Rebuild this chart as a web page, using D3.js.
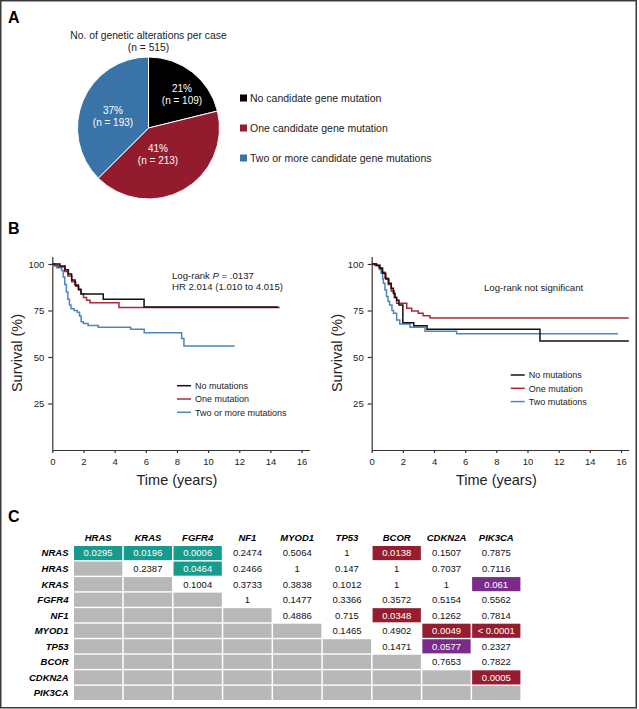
<!DOCTYPE html>
<html>
<head>
<meta charset="utf-8">
<script src="https://cdn.jsdelivr.net/npm/d3@7"></script>
<style>
  body { margin: 0; background: #fff; }
  svg { display: block; font-family: 'Liberation Sans', Arial, sans-serif; }
  .narrow { font-family: 'Liberation Sans Narrow', 'Liberation Sans', Arial, sans-serif; }
</style>
</head>
<body>
<svg id="fig"></svg>
<script>
'use strict';

// ---- Panel A data
var pieLabels = ['No candidate gene mutation', 'One candidate gene mutation', 'Two or more candidate gene mutations'];
var pieCounts = [109, 213, 193];
var piePercents = ['21%', '41%', '37%'];

// ---- Panel B data  ([years, survival %] steps)
var timeTicks = [0, 2, 4, 6, 8, 10, 12, 14, 16];
var survTicks = [25, 50, 75, 100];
var leftNames = ['No mutations', 'One mutation', 'Two or more mutations'];
var rightNames = ['No mutations', 'One mutation', 'Two mutations'];

var leftNone = [[0, 100], [0.49, 98.9], [0.82, 96.9], [1.03, 94.6], [1.24, 91.4], [1.46, 88.7],
  [1.67, 86.4], [1.84, 83.9], [3.27, 81], [5.89, 76.9], [14.5, 76.9]];
var leftOne = [[0, 100], [0.15, 99.2], [0.37, 98.4], [0.8, 96], [1.0, 93.5], [1.25, 90.5], [1.5, 88],
  [1.7, 86], [1.85, 84], [2.0, 82], [2.2, 80.5], [2.42, 79.2], [4.28, 76.6], [14.6, 76.6]];
var leftTwo = [[0, 100], [0.1, 99], [0.28, 98], [0.6, 96.5], [0.7, 93], [0.8, 89], [0.9, 85], [1.0, 81],
  [1.1, 78], [1.2, 76], [1.4, 75], [1.6, 74], [1.75, 72], [1.85, 69], [2.0, 68], [2.3, 67], [2.95, 66],
  [5.03, 64.9], [5.9, 63.1], [8.3, 60], [8.45, 55.9], [11.7, 55.9]];

var rightNone = [[0, 100], [0.32, 99.3], [0.53, 97.7], [0.7, 95], [0.9, 92], [1.1, 89.6], [1.25, 87],
  [1.39, 84.2], [1.5, 82], [1.6, 80.5], [1.75, 78], [2.0, 68.4], [2.7, 66.8], [3.55, 64.9],
  [10.8, 58.6], [16.5, 58.6]];
var rightOne = [[0, 100], [0.2, 99.2], [0.45, 98], [0.65, 95.5], [0.85, 92.5], [1.05, 89], [1.25, 85.5],
  [1.45, 82], [1.6, 78.9], [2.25, 76.2], [2.57, 74.7], [2.99, 73.5], [3.3, 72.2], [3.74, 71], [16.5, 71]];
var rightTwo = [[0, 100], [0.3, 99], [0.5, 97], [0.6, 95], [0.7, 92], [0.75, 89.6], [0.85, 86],
  [0.95, 82.5], [1.05, 80], [1.15, 78], [1.3, 75], [1.4, 73.5], [1.6, 69.9], [1.8, 67.7], [2.46, 66],
  [3.42, 63.8], [5.45, 62.5], [15.8, 62.5]];

// ---- Panel C data
var colGenes = ['HRAS', 'KRAS', 'FGFR4', 'NF1', 'MYOD1', 'TP53', 'BCOR', 'CDKN2A', 'PIK3CA'];
var rowGenes = ['NRAS', 'HRAS', 'KRAS', 'FGFR4', 'NF1', 'MYOD1', 'TP53', 'BCOR', 'CDKN2A', 'PIK3CA'];
var pValues = [
  ['0.0295', '0.0196', '0.0006', '0.2474', '0.5064', '1', '0.0138', '0.1507', '0.7875'],
  [null, '0.2387', '0.0464', '0.2466', '1', '0.147', '1', '0.7037', '0.7116'],
  [null, null, '0.1004', '0.3733', '0.3838', '0.1012', '1', '1', '0.061'],
  [null, null, null, '1', '0.1477', '0.3366', '0.3572', '0.5154', '0.5562'],
  [null, null, null, null, '0.4886', '0.715', '0.0348', '0.1262', '0.7814'],
  [null, null, null, null, null, '0.1465', '0.4902', '0.0049', '< 0.0001'],
  [null, null, null, null, null, null, '0.1471', '0.0577', '0.2327'],
  [null, null, null, null, null, null, null, '0.7653', '0.7822'],
  [null, null, null, null, null, null, null, null, '0.0005'],
  [null, null, null, null, null, null, null, null, null]
];
// pairs that are mutually exclusive (the rest co-occur)
var exclusivePairs = [['NRAS', 'HRAS'], ['NRAS', 'KRAS'], ['NRAS', 'FGFR4'], ['HRAS', 'FGFR4']];

var W = 639, H = 709;
var svg = d3.select('#fig').attr('width', W).attr('height', H);

// frame
svg.append('rect')
  .attr('x', 0.75).attr('y', 0.75).attr('width', 635.5).attr('height', 707)
  .attr('fill', 'none').attr('stroke', '#3a3a3a').attr('stroke-width', 1.5);

function panelLetter(txt, x, y) {
  svg.append('text').attr('x', x).attr('y', y)
    .style('font-size', '16px').style('font-weight', 'bold').text(txt);
}

// ============ A: pie
panelLetter('A', 8, 23);
var pieColor = d3.scaleOrdinal().domain(pieLabels).range(['#000000', '#921c2e', '#3a73a8']);
var pieG = svg.append('g').attr('transform', 'translate(148.5,128)');
var pieRadius = 71;
var pie = d3.pie().sort(null).value(function(d) { return d.count; });
var pieData = pie(pieLabels.map(function(l, i) { return {label: l, count: pieCounts[i], pct: piePercents[i]}; }));
var arc = d3.arc().innerRadius(0).outerRadius(pieRadius);

pieG.selectAll('path').data(pieData).enter().append('path')
  .attr('d', arc)
  .attr('fill', function(d) { return pieColor(d.data.label); })
  .attr('stroke', '#fff').attr('stroke-width', 1);

svg.append('text').attr('x', 148.5).attr('y', 39).attr('text-anchor', 'middle')
  .style('font-size', '10.3px').attr('fill', '#222').text('No. of genetic alterations per case');
svg.append('text').attr('x', 148.5).attr('y', 51).attr('text-anchor', 'middle')
  .style('font-size', '10.3px').attr('fill', '#222').text('(n = 515)');

// label placement inside slices (angle in degrees from 12 o'clock, radius)
var pieLabelPolar = [[44.6, 47.7], [160.6, 28.6], [287.2, 37.2]];
var pieLab = pieG.selectAll('.plab').data(pieData).enter().append('g')
  .attr('class', 'plab')
  .attr('transform', function(d, i) {
    var a = pieLabelPolar[i][0] * Math.PI / 180, r = pieLabelPolar[i][1];
    return 'translate(' + (r * Math.sin(a)) + ',' + (-r * Math.cos(a)) + ')';
  });
pieLab.append('text').attr('y', -2.5).attr('text-anchor', 'middle')
  .attr('fill', '#fff').style('font-size', '10px')
  .text(function(d) { return d.data.pct; });
pieLab.append('text').attr('y', 9.5).attr('text-anchor', 'middle')
  .attr('fill', '#fff').style('font-size', '10px')
  .text(function(d) { return '(n = ' + d.data.count + ')'; });

var pieLegend = svg.selectAll('.plegend').data(pieLabels).enter().append('g')
  .attr('class', 'plegend')
  .attr('transform', function(d, i) { return 'translate(240,' + (98 + i * 30) + ')'; });
pieLegend.append('rect').attr('x', 0).attr('y', -3.5).attr('width', 7).attr('height', 7)
  .attr('fill', pieColor);
pieLegend.append('text').attr('x', 10).attr('y', 3.7).style('font-size', '10.5px').attr('fill', '#222')
  .text(function(d) { return d; });

// ============ B: Kaplan-Meier
panelLetter('B', 8, 234);
var kmColors = ['#111111', '#aa2a3c', '#4a87c0'];

function drawKM(cfg) {
  var x = d3.scaleLinear().domain([0, 16.5]).range([cfg.left, cfg.left + 16.5 * 15.58]);
  var y = d3.scaleLinear().domain([0, 104]).range([450, 450 - 104 * 1.86]);
  var g = svg.append('g');

  var xAxis = g.append('g').attr('transform', 'translate(0,450)')
    .call(d3.axisBottom(x).tickValues(timeTicks).tickSize(3).tickSizeOuter(0).tickPadding(5));
  var yAxis = g.append('g').attr('transform', 'translate(' + cfg.left + ',0)')
    .call(d3.axisLeft(y).tickValues(survTicks).tickSize(4).tickSizeOuter(0).tickPadding(4));
  [xAxis, yAxis].forEach(function(a) {
    a.selectAll('path, line').attr('stroke', '#333').attr('stroke-width', 1.2);
    a.selectAll('text').style('font-size', '9.5px').style('font-family', "'Liberation Sans', Arial, sans-serif")
      .attr('fill', '#222');
  });

  g.append('text').attr('class', 'narrow')
    .attr('x', cfg.left + 8 * 15.58).attr('y', 485).attr('text-anchor', 'middle')
    .style('font-size', '14.5px').attr('fill', '#222').text('Time (years)');
  g.append('text').attr('class', 'narrow')
    .attr('transform', 'translate(' + (cfg.left - 30) + ',353) rotate(-90)')
    .attr('text-anchor', 'middle').style('font-size', '14.5px').attr('fill', '#222')
    .text('Survival (%)');

  var line = d3.line()
    .x(function(d) { return x(d[0]); })
    .y(function(d) { return y(d[1]); })
    .curve(d3.curveStepAfter);
  // draw blue, red, then black on top
  [2, 1, 0].forEach(function(i) {
    g.append('path').datum(cfg.series[i])
      .attr('d', line).attr('fill', 'none')
      .attr('stroke', kmColors[i]).attr('stroke-width', 1.5);
  });

  cfg.note.forEach(function(t, i) {
    var tx = g.append('text').attr('x', cfg.noteX).attr('y', cfg.noteY + i * 11.5)
      .style('font-size', '9.6px').attr('fill', '#222');
    t.forEach(function(part) {
      tx.append('tspan').style('font-style', part.it ? 'italic' : 'normal').text(part.s);
    });
  });

  var leg = g.selectAll('.kleg').data(cfg.names).enter().append('g')
    .attr('transform', function(d, i) { return 'translate(' + cfg.legX + ',' + (cfg.legY + i * 13.3) + ')'; });
  leg.append('line').attr('x1', 0).attr('x2', 14)
    .attr('stroke', function(d, i) { return kmColors[i]; }).attr('stroke-width', 1.5);
  leg.append('text').attr('x', 18).attr('y', 3.3).style('font-size', '9px').attr('fill', '#222')
    .text(function(d) { return d; });
}

drawKM({
  left: 52.3, series: [leftNone, leftOne, leftTwo], names: leftNames,
  note: [[{s: 'Log-rank '}, {s: 'P', it: true}, {s: ' = .0137'}], [{s: 'HR 2.014 (1.010 to 4.015)'}]],
  noteX: 172, noteY: 278.5, legX: 177, legY: 385.7
});
drawKM({
  left: 371.7, series: [rightNone, rightOne, rightTwo], names: rightNames,
  note: [[{s: 'Log-rank not significant'}]],
  noteX: 484, noteY: 291, legX: 510.7, legY: 375
});

// ============ C: p-value table
panelLetter('C', 8, 522);
var cx = d3.scaleBand().domain(colGenes).range([74, 74 + 9 * 49.6]).paddingInner(0.03);
var cy = d3.scaleBand().domain(rowGenes).range([546, 546 + 10 * 15.4]).paddingInner(0.09);

svg.selectAll('.chead').data(colGenes).enter().append('text')
  .attr('x', function(d) { return cx(d) + cx.bandwidth() / 2; }).attr('y', 541)
  .attr('text-anchor', 'middle').style('font-size', '9.5px')
  .style('font-weight', 'bold').style('font-style', 'italic').text(function(d) { return d; });
svg.selectAll('.rhead').data(rowGenes).enter().append('text')
  .attr('x', 68.5).attr('y', function(d) { return cy(d) + cy.bandwidth() / 2 + 3.4; })
  .attr('text-anchor', 'end').style('font-size', '9.5px')
  .style('font-weight', 'bold').style('font-style', 'italic').text(function(d) { return d; });

function isExclusive(a, b) {
  return exclusivePairs.some(function(p) { return (p[0] === a && p[1] === b) || (p[0] === b && p[1] === a); });
}
var cells = [];
rowGenes.forEach(function(r, i) {
  colGenes.forEach(function(c, j) {
    var s = pValues[i][j];
    var kind = 'empty';
    if (s !== null) {
      var p = parseFloat(s.replace('<', ''));
      if (p < 0.05) kind = isExclusive(r, c) ? 'exclusive' : 'cooccur';
      else if (p < 0.1) kind = 'trend';
      else kind = 'ns';
    }
    cells.push({row: r, col: c, text: s, kind: kind});
  });
});
var cellFill = {empty: '#b8b8b8', exclusive: '#179b8e', cooccur: '#961d30', trend: '#7a2b8c', ns: 'none'};

var cell = svg.selectAll('.cell').data(cells).enter().append('g').attr('class', 'cell');
cell.filter(function(d) { return d.kind !== 'ns'; }).append('rect')
  .attr('x', function(d) { return cx(d.col); }).attr('y', function(d) { return cy(d.row); })
  .attr('width', cx.bandwidth()).attr('height', cy.bandwidth())
  .attr('fill', function(d) { return cellFill[d.kind]; });
cell.filter(function(d) { return d.text !== null; }).append('text')
  .attr('x', function(d) { return cx(d.col) + cx.bandwidth() / 2; })
  .attr('y', function(d) { return cy(d.row) + cy.bandwidth() / 2 + 3.4; })
  .attr('text-anchor', 'middle').style('font-size', '9.5px')
  .attr('fill', function(d) { return d.kind === 'ns' ? '#111' : '#fff'; })
  .text(function(d) { return d.text; });
</script>
</body>
</html>
